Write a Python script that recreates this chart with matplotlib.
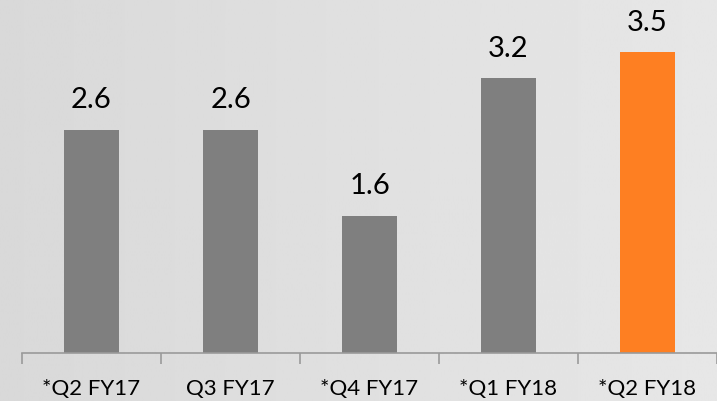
import matplotlib.pyplot as plt
import numpy as np

categories = ['*Q2 FY17', 'Q3 FY17', '*Q4 FY17', '*Q1 FY18', '*Q2 FY18']
values = [2.6, 2.6, 1.6, 3.2, 3.5]
bar_colors = ['#7f7f7f', '#7f7f7f', '#7f7f7f', '#7f7f7f', '#fe7f22']

plt.rcParams['font.family'] = ['Lato', 'DejaVu Sans']

W, H = 717, 402
fig = plt.figure(figsize=(W / 100, H / 100), dpi=100)

# light gray background, a bit darker on the left
bg = fig.add_axes([0, 0, 1, 1], zorder=0)
grad = np.linspace(0.85, 0.905, 256).reshape(1, -1)
bg.imshow(grad, aspect='auto', cmap='gray', vmin=0, vmax=1, extent=[0, 1, 0, 1])
bg.axis('off')

left, bottom = 22 / W, (H - 354) / H
ax = fig.add_axes([left, bottom, 1 - left, 354 / H], zorder=1)
ax.patch.set_alpha(0)

x = np.arange(len(categories))
bars = ax.bar(x, values, width=0.4, color=bar_colors)
for xi, v in zip(x, values):
    ax.text(xi, v + 0.2, f'{v:.1f}', ha='center', va='bottom', fontsize=21, color='black')

ax.set_xlim(-0.5, -0.5 + (W - 22) / 141)
ax.set_ylim(0, 4.12)
ax.set_yticks([])
for s in ['top', 'right', 'left']:
    ax.spines[s].set_visible(False)
ax.spines['bottom'].set_color('#9a9a9a')
ax.spines['bottom'].set_linewidth(1.2)

ax.set_xticks(x)
ax.set_xticklabels(categories, fontsize=16)
ax.tick_params(axis='x', which='major', length=0, pad=18)
ax.set_xticks(np.arange(-0.5, len(categories), 1), minor=True)
ax.tick_params(axis='x', which='minor', length=8, width=1.2, color='#9a9a9a', direction='out')

plt.savefig('out.png', dpi=100)
